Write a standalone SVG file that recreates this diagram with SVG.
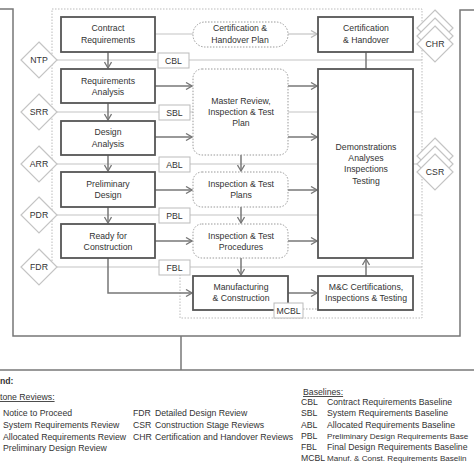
<svg xmlns="http://www.w3.org/2000/svg" width="474" height="474" viewBox="0 0 474 474">
<style>
text{font-family:"Liberation Sans",Arial,sans-serif;font-size:8.7px;fill:#333}
.c{text-anchor:middle}
.sm{font-size:8.1px}
.box{fill:#fff;stroke:#555;stroke-width:1.8}
.dbox{fill:#fff;stroke:#999;stroke-width:1;stroke-dasharray:1.5 1.5}
.bl{fill:#fff;stroke:#bbb;stroke-width:1}
.dia{fill:#fff;stroke:#c4c4c4;stroke-width:1.2}
.lt{fill:none;stroke:#c4c4c4;stroke-width:1.2}
.cn{fill:none;stroke:#777;stroke-width:1.5}
.fr{fill:none;stroke:#777;stroke-width:1.5}
</style>
<defs>
<marker id="ah" markerWidth="8" markerHeight="8" refX="7" refY="4" orient="auto" markerUnits="userSpaceOnUse"><path d="M1,0.5 L7,4 L1,7.5" fill="none" stroke="#777" stroke-width="1.3"/></marker>
<marker id="ahl" markerWidth="8" markerHeight="8" refX="7" refY="4" orient="auto" markerUnits="userSpaceOnUse"><path d="M1,0.5 L7,4 L1,7.5" fill="none" stroke="#bbb" stroke-width="1.3"/></marker>
<path id="dm" d="M0,-18 L18,0 L0,18 L-18,0 Z"/>
</defs>

<g id="frame">
<path class="fr" d="M0,9 H13 V336 H460 V10 H474"/>
<path class="fr" d="M181,336 V370"/>
<path class="fr" d="M0,370 H474"/>
<path fill="none" stroke="#bbb" stroke-width="1" stroke-dasharray="1.5 1.5" d="M52,267 V9 H422 V318 H180 V275"/>
</g>

<g id="connectors">
<path class="lt" d="M57,60 H422"/>
<path class="lt" d="M57,112 H422"/>
<path class="lt" d="M57,164 H422"/>
<path class="lt" d="M57,215 H422"/>
<path class="lt" d="M57,267 H422"/>
<path class="lt" d="M155,34 H193"/>
<path class="lt" d="M288,34 H317" marker-end="url(#ahl)"/>
<path fill="none" stroke="#aaa" stroke-width="1" stroke-dasharray="1.5 1.5" d="M303,309 H318"/>
<path class="cn" d="M108,52 V68" marker-end="url(#ah)"/>
<path class="cn" d="M108,103 V120" marker-end="url(#ah)"/>
<path class="cn" d="M108,155 V171" marker-end="url(#ah)"/>
<path class="cn" d="M108,207 V223" marker-end="url(#ah)"/>
<path class="cn" d="M108,258 V293 H192" marker-end="url(#ah)"/>
<path class="cn" d="M155,86 H192" marker-end="url(#ah)"/>
<path class="cn" d="M155,137 H192" marker-end="url(#ah)"/>
<path class="cn" d="M155,190 H192" marker-end="url(#ah)"/>
<path class="cn" d="M155,241 H192" marker-end="url(#ah)"/>
<path class="cn" d="M288,86 H317" marker-end="url(#ah)"/>
<path class="cn" d="M288,137 H317" marker-end="url(#ah)"/>
<path class="cn" d="M288,190 H317" marker-end="url(#ah)"/>
<path class="cn" d="M288,241 H317" marker-end="url(#ah)"/>
<path class="cn" d="M288,293 H317" marker-end="url(#ah)"/>
<path class="cn" d="M241,155 V171" marker-end="url(#ah)"/>
<path class="cn" d="M241,207 V223" marker-end="url(#ah)"/>
<path class="cn" d="M241,258 V275" marker-end="url(#ah)"/>
<path class="cn" d="M366,52 V69"/>
<path class="cn" d="M366,276 V259" marker-end="url(#ah)"/>
</g>

<g id="contract-requirements"><rect class="box" x="61" y="17" width="94" height="35"/><text class="c" x="108" y="31">Contract</text><text class="c" x="108" y="43">Requirements</text></g>
<g id="requirements-analysis"><rect class="box" x="61" y="69" width="94" height="34"/><text class="c" x="108" y="84">Requirements</text><text class="c" x="108" y="95">Analysis</text></g>
<g id="design-analysis"><rect class="box" x="61" y="121" width="94" height="34"/><text class="c" x="108" y="135">Design</text><text class="c" x="108" y="147">Analysis</text></g>
<g id="preliminary-design"><rect class="box" x="61" y="172" width="94" height="35"/><text class="c" x="108" y="187">Preliminary</text><text class="c" x="108" y="198">Design</text></g>
<g id="ready-for-construction"><rect class="box" x="61" y="224" width="94" height="34"/><text class="c" x="108" y="239">Ready for</text><text class="c" x="108" y="250">Construction</text></g>

<g id="cert-handover-plan"><rect class="dbox" x="193" y="22" width="95" height="25" rx="12"/><text class="c" x="240" y="31">Certification &amp;</text><text class="c" x="240" y="43">Handover Plan</text></g>
<g id="master-review"><rect class="dbox" x="193" y="69" width="95" height="86" rx="9"/><text class="c" x="241" y="104">Master Review,</text><text class="c" x="241" y="115">Inspection &amp; Test</text><text class="c" x="241" y="126">Plan</text></g>
<g id="it-plans"><rect class="dbox" x="193" y="172" width="95" height="35" rx="9"/><text class="c" x="241" y="187">Inspection &amp; Test</text><text class="c" x="241" y="198">Plans</text></g>
<g id="it-procedures"><rect class="dbox" x="193" y="224" width="95" height="34" rx="9"/><text class="c" x="241" y="239">Inspection &amp; Test</text><text class="c" x="241" y="250">Procedures</text></g>
<g id="manufacturing"><rect class="box" x="193" y="276" width="95" height="34"/><text class="c" x="241" y="290">Manufacturing</text><text class="c" x="241" y="301">&amp; Construction</text></g>

<g id="cert-handover"><rect class="box" x="318" y="17" width="95" height="35"/><text class="c" x="366" y="31">Certification</text><text class="c" x="366" y="43">&amp; Handover</text></g>
<g id="demonstrations"><rect class="box" x="318" y="69" width="95" height="189"/><text class="c" x="366" y="150">Demonstrations</text><text class="c" x="366" y="161">Analyses</text><text class="c" x="366" y="172">Inspections</text><text class="c" x="366" y="184">Testing</text></g>
<g id="mc-cert"><rect class="box" x="318" y="276" width="95" height="34"/><text class="c" x="366" y="290">M&amp;C Certifications,</text><text class="c" x="366" y="301">Inspections &amp; Testing</text></g>

<g id="cbl"><rect class="bl" x="158" y="53" width="31" height="15"/><text class="c" x="173.5" y="64">CBL</text></g>
<g id="sbl"><rect class="bl" x="159" y="105" width="31" height="15"/><text class="c" x="174.5" y="116">SBL</text></g>
<g id="abl"><rect class="bl" x="159" y="157" width="31" height="15"/><text class="c" x="174.5" y="168">ABL</text></g>
<g id="pbl"><rect class="bl" x="159" y="208" width="31" height="15"/><text class="c" x="174.5" y="219">PBL</text></g>
<g id="fbl"><rect class="bl" x="159" y="260" width="31" height="15"/><text class="c" x="174.5" y="271">FBL</text></g>
<g id="mcbl"><rect class="bl" x="274" y="303" width="29" height="15"/><text class="c" x="288.5" y="314">MCBL</text></g>

<g id="ntp"><use href="#dm" class="dia" x="39" y="60"/><text class="c" x="39" y="63">NTP</text></g>
<g id="srr"><use href="#dm" class="dia" x="39" y="112"/><text class="c" x="39" y="115">SRR</text></g>
<g id="arr"><use href="#dm" class="dia" x="39" y="164"/><text class="c" x="39" y="167">ARR</text></g>
<g id="pdr"><use href="#dm" class="dia" x="39" y="215"/><text class="c" x="39" y="218">PDR</text></g>
<g id="fdr"><use href="#dm" class="dia" x="39" y="267"/><text class="c" x="39" y="270">FDR</text></g>

<g id="chr"><use href="#dm" class="dia" x="435" y="28"/><use href="#dm" class="dia" x="435" y="36"/><use href="#dm" class="dia" x="435" y="44"/><text class="c" x="435" y="47">CHR</text></g>
<g id="csr"><use href="#dm" class="dia" x="435" y="156"/><use href="#dm" class="dia" x="435" y="164"/><use href="#dm" class="dia" x="435" y="172"/><text class="c" x="435" y="175">CSR</text></g>

<g id="legend">
<text x="0" y="384" font-weight="bold">nd:</text>
<text x="0" y="400" text-decoration="underline">tone Reviews:</text>
<text x="3" y="416">Notice to Proceed</text>
<text x="3" y="428">System Requirements Review</text>
<text x="3" y="440">Allocated Requirements Review</text>
<text x="3" y="451">Preliminary Design Review</text>
<text x="133" y="416">FDR</text><text x="155" y="416">Detailed Design Review</text>
<text x="133" y="428">CSR</text><text x="155" y="428">Construction Stage Reviews</text>
<text x="133" y="440">CHR</text><text x="155" y="440">Certification and Handover Reviews</text>
<text x="303" y="395" text-decoration="underline">Baselines:</text>
<text x="301" y="405">CBL</text><text x="327" y="405">Contract Requirements Baseline</text>
<text x="301" y="416">SBL</text><text x="327" y="416">System Requirements Baseline</text>
<text x="301" y="428">ABL</text><text x="327" y="428">Allocated Requirements Baseline</text>
<text x="301" y="439">PBL</text><text class="sm" x="327" y="439">Preliminary Design Requirements Base</text>
<text x="301" y="450">FBL</text><text x="327" y="450">Final Design Requirements Baseline</text>
<text x="301" y="461">MCBL</text><text class="sm" x="327" y="461">Manuf. &amp; Const. Requirements Baselin</text>
</g>
</svg>
